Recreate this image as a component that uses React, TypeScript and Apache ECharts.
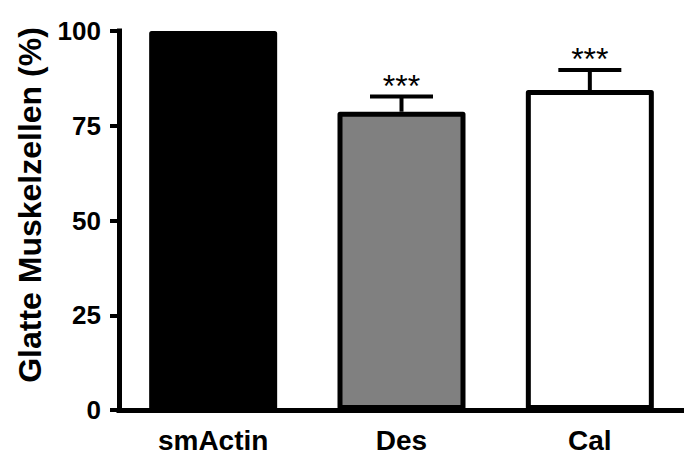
import React, { useEffect, useRef } from "react";
import * as echarts from "echarts";

const categories = ["smActin", "Des", "Cal"];
const means = [100, 78.7, 84.4];
const errors = [0, 4.0, 5.3];
const significance = ["", "***", "***"];
const barColors = ["#000000", "#808080", "#ffffff"];
const yMin = 0;
const yMax = 100;
const yStep = 25;
const yTitle = "Glatte Muskelzellen (%)";

const FONT = '"Liberation Sans", Arial, Helvetica, sans-serif';

export default function App() {
  const ref = useRef<HTMLDivElement>(null);
  useEffect(() => {
    if (!ref.current) return;
    const chart = echarts.init(ref.current, null, { renderer: "svg" });
    const option: any = {
      animation: false,
      backgroundColor: "#ffffff",
      grid: { left: 119, top: 31, width: 571, height: 381, containLabel: false },
      xAxis: {
        type: "category",
        data: categories,
        boundaryGap: true,
        axisLine: { lineStyle: { color: "#000", width: 5, cap: "square" } },
        axisTick: { alignWithLabel: true, length: 9, lineStyle: { color: "#000", width: 4 } },
        axisLabel: {
          color: "#000",
          fontFamily: FONT,
          fontWeight: "bold",
          fontSize: 28,
          margin: 16,
        },
        splitLine: { show: false },
      },
      yAxis: {
        type: "value",
        min: yMin,
        max: yMax,
        interval: yStep,
        axisLine: { show: true, lineStyle: { color: "#000", width: 5, cap: "square" } },
        axisTick: { show: true, length: 9, lineStyle: { color: "#000", width: 4 } },
        axisLabel: {
          color: "#000",
          fontFamily: FONT,
          fontWeight: "bold",
          fontSize: 26,
          margin: 18,
        },
        splitLine: { show: false },
      },
      series: [
        {
          type: "bar",
          barWidth: 128,
          data: means.map((v, i) => ({
            value: v,
            itemStyle: {
              color: barColors[i],
              borderColor: "#000",
              borderWidth: 5,
              borderJoin: "round",
            },
          })),
          z: 2,
        },
        {
          type: "custom",
          z: 3,
          data: categories.map((c, i) => [i, means[i], errors[i]]),
          encode: { x: 0, y: 1 },
          renderItem: (params: any, api: any) => {
            const idx = api.value(0);
            const mean = api.value(1);
            const err = api.value(2);
            const children: any[] = [];
            const base = api.coord([idx, mean]);
            const top = api.coord([idx, mean + err]);
            if (err > 0) {
              children.push({
                type: "line",
                shape: { x1: base[0], y1: base[1], x2: top[0], y2: top[1] },
                style: { stroke: "#000", lineWidth: 4 },
              });
              children.push({
                type: "line",
                shape: { x1: top[0] - 31.5, y1: top[1], x2: top[0] + 31.5, y2: top[1] },
                style: { stroke: "#000", lineWidth: 4 },
              });
            }
            const sig = significance[params.dataIndex];
            if (sig) {
              children.push({
                type: "text",
                x: top[0],
                y: top[1] - 11,
                style: {
                  text: sig,
                  fill: "#000",
                  font: `32px ${FONT}`,
                  align: "center",
                  verticalAlign: "middle",
                },
              });
            }
            return { type: "group", children };
          },
        },
      ],
      graphic: [
        {
          type: "text",
          x: 29.5,
          y: 205,
          rotation: Math.PI / 2,
          style: {
            text: yTitle,
            fill: "#000",
            font: `bold 32px ${FONT}`,
            align: "center",
            verticalAlign: "middle",
          },
        },
      ],
    };
    chart.setOption(option);
    return () => chart.dispose();
  }, []);
  return (
    <div
      ref={ref}
      style={{ position: "fixed", left: 0, top: 0, width: 684, height: 454, background: "#fff" }}
    />
  );
}
